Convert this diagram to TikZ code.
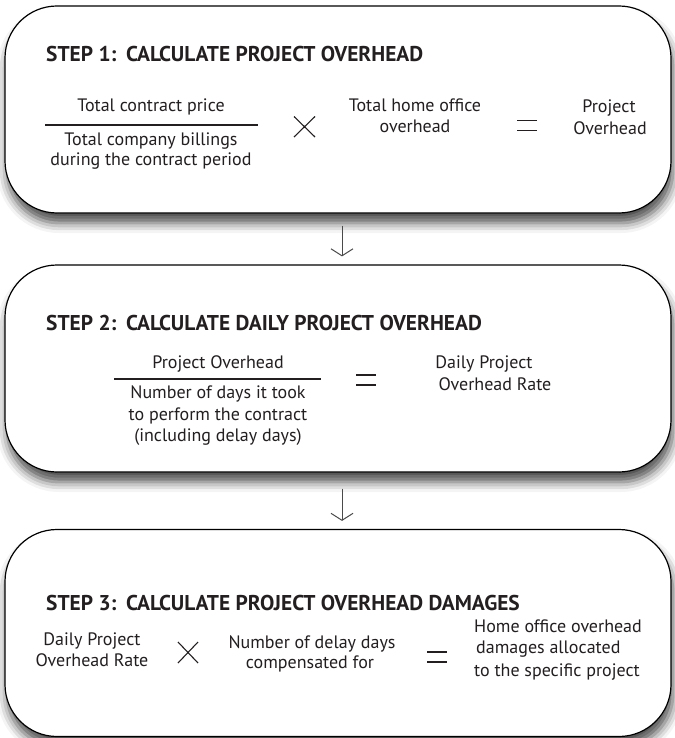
\documentclass[tikz,border=0pt]{standalone}
\usepackage{fontspec}
\setmainfont{PT Sans}
\usetikzlibrary{arrows.meta,shadows.blur}

\definecolor{txt}{HTML}{231F20}
\definecolor{arrowgray}{HTML}{4A4A4A}

\tikzset{
  stepbox/.style={draw=black, line width=1.2pt, fill=white, rounded corners=52pt,
    minimum width=666pt, minimum height=207pt, inner sep=0pt,
    blur shadow={shadow xshift=2pt, shadow yshift=-10pt, shadow blur radius=10pt, shadow opacity=70}},
  steptitle/.style={anchor=base west, inner sep=0pt, font=\fontsize{21.4}{25}\selectfont\bfseries, text=txt},
  body/.style={anchor=base, inner sep=0pt, font=\fontsize{18}{21}\selectfont, text=txt},
  bodyleft/.style={body, anchor=base west},
  fracrule/.style={line width=1.4pt, draw=txt},
  opline/.style={line width=1.1pt, draw=txt},
  flow/.style={draw=arrowgray, line width=1pt, -{Straight Barb[length=7pt,width=22pt,line width=1pt]}},
}

\begin{document}
\begin{tikzpicture}[x=1pt, y=-1pt]
\useasboundingbox (0,0) rectangle (674,738);

% the three step panels
\node[stepbox] (b1) at (338,109.5) {};
\node[stepbox] (b2) at (338,368.5) {};
\node[stepbox] (b3) at (338,633) {};

% connectors between the panels
\coordinate (ax) at (342,0);
\draw[flow, shorten <=12pt, shorten >=8pt] (b1.south -| ax) -- (b2.north -| ax);
\draw[flow, shorten <=16pt, shorten >=8pt] (b2.south -| ax) -- (b3.north -| ax);

% ---------- step 1 ----------
\node[steptitle] (t1) at (46,61.5) {STEP 1:\hspace{0.45em}CALCULATE PROJECT OVERHEAD};
\node[body] (n1) at (151,111.7) {Total contract price};
\coordinate (r1a) at (45,125);
\coordinate (r1b) at (258,125);
\draw[fracrule] (r1a) -- (r1b);
\node[body] (d1a) at (151,145.7) {Total company billings};
\node[body] (d1b) at (151,165.7) {during the contract period};
\coordinate (x1a) at (294,116.5);
\coordinate (x1b) at (315,137);
\draw[opline] (x1a) -- (x1b) (x1a |- x1b) -- (x1b |- x1a);
\node[body] (h1a) at (415,111.7) {Total home office};
\node[body] (h1b) at (415,133) {overhead};
\coordinate (e1a) at (517,120.7);
\coordinate (e1b) at (537,130.7);
\draw[opline] (e1a) -- (e1a -| e1b) (e1a |- e1b) -- (e1b);
\node[body] (p1a) at (609,113) {Project};
\node[body] (p1b) at (610,135) {Overhead};

% ---------- step 2 ----------
\node[steptitle] (t2) at (46,330) {STEP 2:\hspace{0.45em}CALCULATE DAILY PROJECT OVERHEAD};
\node[body] (n2) at (218,368) {Project Overhead};
\coordinate (r2a) at (114,379);
\coordinate (r2b) at (321,379);
\draw[fracrule] (r2a) -- (r2b);
\node[body] (d2a) at (218,398) {Number of days it took};
\node[body] (d2b) at (218,420) {to perform the contract};
\node[body] (d2c) at (218,441.7) {(including delay days)};
\coordinate (e2a) at (356,375);
\coordinate (e2b) at (376,385);
\draw[opline] (e2a) -- (e2a -| e2b) (e2a |- e2b) -- (e2b);
\node[body] (q2a) at (484,368) {Daily Project};
\node[body] (q2b) at (495,390) {Overhead Rate};

% ---------- step 3 ----------
\node[steptitle] (t3) at (46,610) {STEP 3:\hspace{0.45em}CALCULATE PROJECT OVERHEAD DAMAGES};
\node[body] (a3a) at (92,645) {Daily Project};
\node[body] (a3b) at (92,666.7) {Overhead Rate};
\coordinate (x3a) at (178,642);
\coordinate (x3b) at (198,663);
\draw[opline] (x3a) -- (x3b) (x3a |- x3b) -- (x3b |- x3a);
\node[body] (c3a) at (312,648.3) {Number of delay days};
\node[body] (c3b) at (310,668.3) {compensated for};
\coordinate (e3a) at (427,652);
\coordinate (e3b) at (447,662);
\draw[opline] (e3a) -- (e3a -| e3b) (e3a |- e3b) -- (e3b);
\node[bodyleft] (h3a) at (474,632.7) {Home office overhead};
\node[bodyleft] (h3b) at (476,653.3) {damages allocated};
\node[bodyleft] (h3c) at (474,676) {to the specific project};
\end{tikzpicture}
\end{document}
